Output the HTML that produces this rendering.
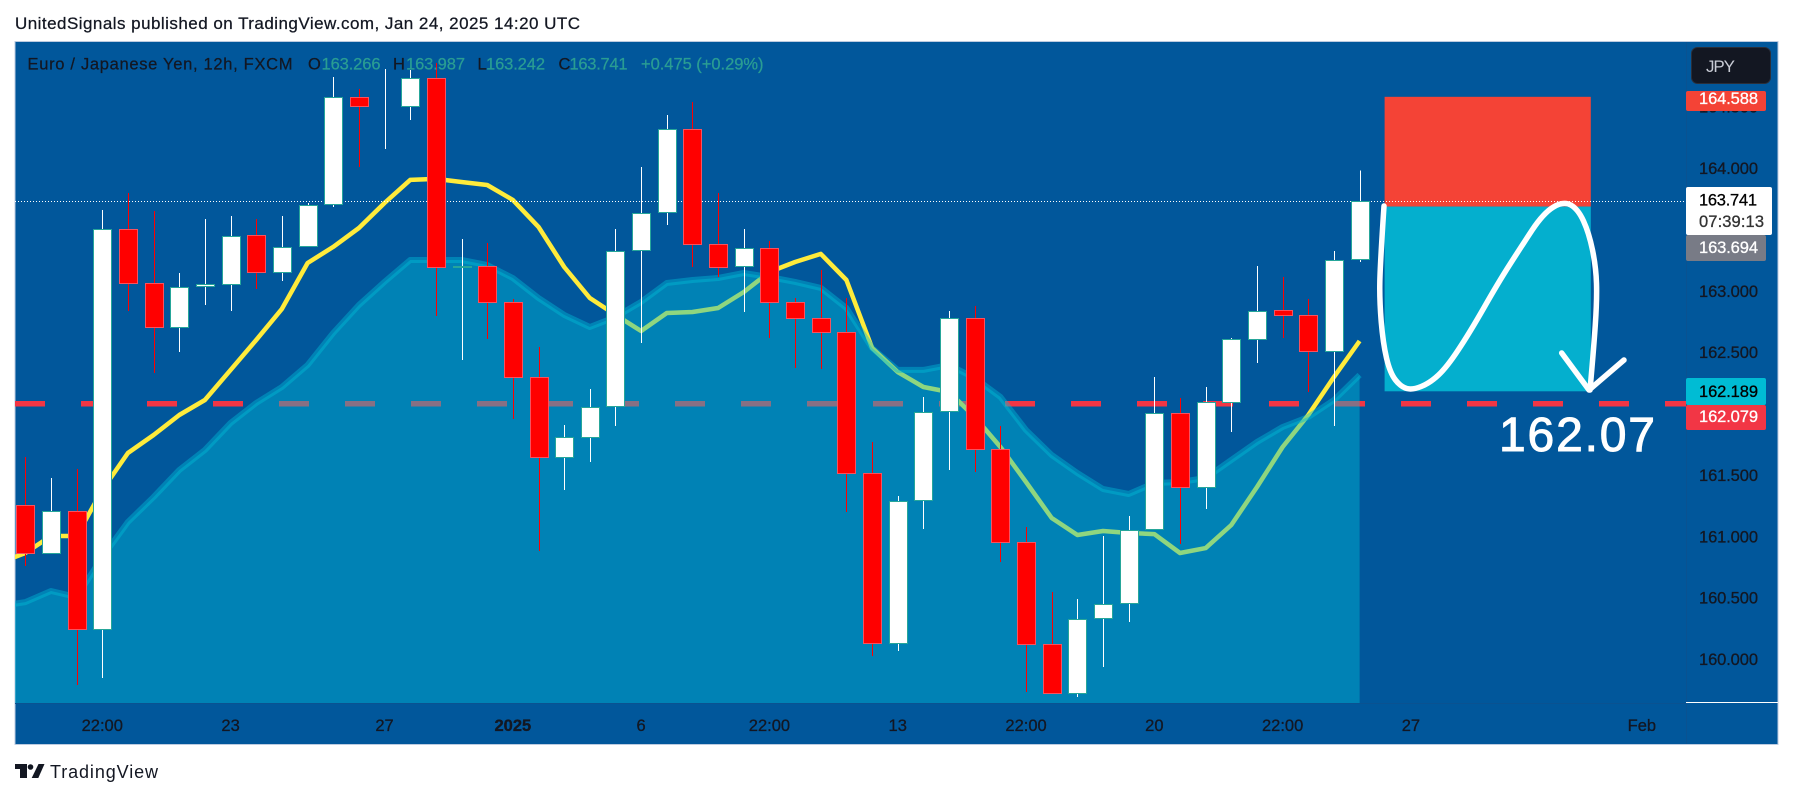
<!DOCTYPE html>
<html lang="en">
<head>
<meta charset="utf-8">
<title>EUR/JPY 12h chart</title>
<style>
html,body{margin:0;padding:0;background:#fff;width:1793px;height:798px;overflow:hidden}
svg{display:block}
text{font-family:"Liberation Sans",sans-serif}
</style>
</head>
<body>
<svg id="chart" xmlns="http://www.w3.org/2000/svg" width="1793" height="798" viewBox="0 0 1793 798">
  <defs>
    <clipPath id="plot-clip"><rect x="15" y="41" width="1671" height="662"/></clipPath>
  </defs>
  <rect x="0" y="0" width="1793" height="798" fill="#ffffff"/>
  <text x="15" y="29" font-size="17" fill="#131722" stroke="#131722" stroke-width="0.25" textLength="565">UnitedSignals published on TradingView.com, Jan 24, 2025 14:20 UTC</text>
  <rect x="15" y="41.5" width="1763" height="703" fill="#01579b" stroke="#bccbe0" stroke-width="1"/>
  <g id="plot-under" clip-path="url(#plot-clip)"></g>
  <rect id="stop-box" fill="#f44336"/>
  <rect id="target-box" fill="#04afce"/>
  <line id="last-price-line" x1="15" x2="1686" stroke="#ffffff" stroke-width="1" stroke-dasharray="1 2"/>
  <g id="candles" clip-path="url(#plot-clip)"></g>

  <path fill="none" stroke="#ffffff" stroke-width="5.5" stroke-linecap="round" stroke-linejoin="round" d="M1384,206 Q1380,267 1379.8,283.5 Q1379.5,300 1381.2,321.5 Q1383,343 1386.5,358 Q1390,373 1395.5,380 Q1401,387 1406.8,388.5 Q1412.5,390 1421.2,386.5 Q1430,383 1438.5,375 Q1447,367 1458.2,350 Q1469.5,333 1483.8,308 Q1498,283 1509.5,265 Q1521,247 1532.2,230 Q1543.5,213 1553.5,207 Q1563.5,201 1570.8,205 Q1578,209 1583.5,221 Q1589,233 1592.5,250 Q1596,267 1596.5,283.5 Q1597,300 1595.3,325 Q1593.6,350 1590,390"/>
  <polyline fill="none" stroke="#ffffff" stroke-width="5.5" stroke-linecap="round" stroke-linejoin="round" points="1561.7,353 1589,390 1624,360"/>
  <text x="1499" y="451" font-size="48" fill="#ffffff" stroke="#ffffff" stroke-width="1" textLength="156">162.07</text>

  <g font-size="16.5" stroke-width="0.25">
    <text x="27.5" y="69.5" fill="#131722" stroke="#131722" textLength="265">Euro / Japanese Yen, 12h, FXCM</text>
    <text x="308" y="69.5" fill="#131722" stroke="#131722">O</text>
    <text x="321.5" y="69.5" fill="#2a9d93" stroke="#2a9d93" textLength="59">163.266</text>
    <text x="393" y="69.5" fill="#131722" stroke="#131722">H</text>
    <text x="406" y="69.5" fill="#2a9d93" stroke="#2a9d93" textLength="59">163.987</text>
    <text x="477.5" y="69.5" fill="#131722" stroke="#131722">L</text>
    <text x="486" y="69.5" fill="#2a9d93" stroke="#2a9d93" textLength="59">163.242</text>
    <text x="558.5" y="69.5" fill="#131722" stroke="#131722">C</text>
    <text x="569.5" y="69.5" fill="#2a9d93" stroke="#2a9d93" textLength="58">163.741</text>
    <text x="641" y="69.5" fill="#2a9d93" stroke="#2a9d93" textLength="122.5">+0.475 (+0.29%)</text>
  </g>

  <line x1="1686.5" x2="1686.5" y1="42" y2="744" stroke="#0a5291" stroke-width="1"/>
  <line x1="15" x2="1686" y1="703.5" y2="703.5" stroke="#0a5291" stroke-width="1"/>
  <line x1="1686" x2="1778" y1="702.5" y2="702.5" stroke="#ffffff" stroke-width="1"/>
  <g id="price-ticks" font-size="16.5" fill="#131722" stroke="#131722" stroke-width="0.3"></g>
  <g id="time-ticks" font-size="16.5" fill="#131722" stroke="#131722" stroke-width="0.3"></g>

  <g font-size="16.5" stroke-width="0.3">
    <rect x="1686" y="91" width="80" height="20" rx="2" fill="#f44336"/>
    <text x="1699" y="104" fill="#ffffff" stroke="#ffffff" textLength="59">164.588</text>
    <rect x="1686" y="187" width="86" height="48" rx="2" fill="#ffffff"/>
    <text x="1699" y="205.5" fill="#000000" stroke="#000000" textLength="58">163.741</text>
    <text x="1699" y="227" fill="#333333" stroke="#333333" textLength="65">07:39:13</text>
    <rect x="1686" y="235" width="80" height="26" rx="2" fill="#787b86"/>
    <text x="1699" y="253" fill="#ffffff" stroke="#ffffff" textLength="59">163.694</text>
    <rect x="1686" y="378" width="80" height="27" rx="2" fill="#00bcd4"/>
    <text x="1699" y="397" fill="#000000" stroke="#000000" textLength="59">162.189</text>
    <rect x="1686" y="405" width="80" height="25" rx="2" fill="#f23645"/>
    <text x="1699" y="422" fill="#ffffff" stroke="#ffffff" textLength="59">162.079</text>
  </g>

  <rect x="1691.5" y="47.5" width="79" height="36" rx="6" fill="#131722" stroke="#2a2e39"/>
  <text x="1706" y="72" font-size="17" fill="#c9ccd6" textLength="29">JPY</text>

  <g>
    <path fill="#131722" d="M15 764H27V778H20V769H15Z"/>
    <circle cx="30.5" cy="767" r="2.8" fill="#131722"/>
    <path fill="#131722" d="M38.5 764H44.5L38.3 778H31.7Z"/>
    <text x="50" y="778" font-size="18" fill="#131722" textLength="108">TradingView</text>
  </g>
</svg>
<script>
// Bar data (EUR/JPY, 12h)
const opens = [161.263,160.872,161.214,160.253,163.511,163.071,162.713,163.047,163.063,163.462,163.161,163.373,163.715,164.587,164.513,164.513,164.742,163.202,163.210,162.917,162.306,161.654,161.817,162.069,163.340,163.650,164.326,163.389,163.210,163.357,162.917,162.786,162.672,161.523,160.138,161.303,162.029,162.786,161.719,160.961,160.130,159.731,160.342,160.464,161.067,162.012,161.409,162.102,162.615,162.851,162.811,162.517,163.266];
const highs = [161.654,161.483,161.556,163.666,163.805,163.658,163.153,163.593,163.617,163.593,163.617,163.723,164.750,164.652,164.815,164.807,164.864,163.430,163.397,162.941,162.550,161.915,162.208,163.511,164.016,164.440,164.546,163.805,163.511,163.414,162.949,163.177,162.949,161.776,161.336,162.143,162.843,162.884,161.906,161.084,160.554,160.497,161.010,161.173,162.306,162.135,162.224,162.623,163.210,163.120,162.941,163.332,163.987];
const lows = [160.766,160.872,159.796,159.853,162.843,162.338,162.509,162.892,162.843,163.023,163.088,163.373,163.691,164.016,164.163,164.399,162.803,162.444,162.615,161.963,160.888,161.385,161.613,161.906,162.583,163.544,163.202,163.120,162.835,162.623,162.379,162.371,161.206,160.033,160.073,161.067,161.548,161.532,160.798,159.739,159.731,159.699,159.943,160.310,161.067,160.945,161.230,161.857,162.420,162.623,162.183,161.906,163.242];
const closes = [160.872,161.214,160.253,163.511,163.071,162.713,163.039,163.063,163.454,163.161,163.365,163.707,164.587,164.513,164.513,164.742,163.202,163.210,162.917,162.306,161.654,161.817,162.061,163.332,163.642,164.326,163.389,163.202,163.357,162.917,162.786,162.672,161.523,160.138,161.295,162.020,162.786,161.719,160.961,160.130,159.731,160.334,160.456,161.059,162.012,161.409,162.102,162.615,162.843,162.811,162.517,163.259,163.741];
// Indicator series; the first value belongs to the bar just before the visible range
const areaValues = [160.440,160.472,160.562,160.513,160.839,161.124,161.328,161.548,161.711,161.931,162.094,162.224,162.403,162.664,162.892,163.080,163.259,163.259,163.259,163.218,163.112,162.949,162.811,162.713,162.794,162.917,163.071,163.096,163.112,163.153,163.120,163.080,163.031,162.868,162.542,162.363,162.363,162.403,162.297,162.143,161.874,161.670,161.523,161.393,161.352,161.442,161.450,161.483,161.629,161.776,161.898,161.980,162.118,162.322];
const emaValues = [160.790,160.872,161.010,161.010,161.385,161.686,161.833,161.996,162.118,162.363,162.607,162.860,163.234,163.365,163.519,163.723,163.911,163.919,163.894,163.870,163.748,163.528,163.202,162.949,162.811,162.680,162.827,162.835,162.868,162.998,163.161,163.242,163.308,163.096,162.542,162.346,162.224,162.183,161.980,161.735,161.450,161.157,161.018,161.051,161.035,161.026,160.872,160.912,161.100,161.409,161.735,161.996,162.306,162.599];
// Axis ticks
const priceTicks = ["164.500","164.000","163.000","162.500","161.500","161.000","160.500","160.000"];
const timeTickLabels = ["22:00","23","27","2025","6","22:00","13","22:00","20","22:00","27","Feb"];
const timeTickBars = [3,8,14,19,24,29,34,39,44,49,54,63];
// Horizontal levels
const levelPrice = 162.079;
const lastPrice = 163.741;
const stopPrice = 164.588;
const entryPrice = 163.694;
const targetPrice = 162.189;

const SVG_NS = 'http://www.w3.org/2000/svg';
function xScale(i){ return 25.3 + 25.66 * i; }
function yScale(p){ return 169 + (164 - p) * 122.75; }
function make(tag, parent){
  const el = document.createElementNS(SVG_NS, tag);
  parent.appendChild(el);
  return el;
}
function seriesPoints(values){
  return values.map(function(v, k){ return xScale(k - 1).toFixed(1) + ',' + yScale(v).toFixed(1); }).join(' ');
}

const under = document.getElementById('plot-under');
const PLOT_LEFT = 15, PLOT_RIGHT = 1686, PLOT_BOTTOM = 703;

// dashed horizontal level
const level = make('line', under);


level.setAttribute('x1', PLOT_LEFT);
level.setAttribute('x2', PLOT_RIGHT);
level.setAttribute('y1', yScale(levelPrice) - 1);
level.setAttribute('y2', yScale(levelPrice) - 1);
level.setAttribute('stroke', '#f23645');
level.setAttribute('stroke-width', '5.5');
level.setAttribute('stroke-dasharray', '30 36');

// moving-average line, sits under the translucent area
const ema = make('polyline', under);


ema.setAttribute('points', seriesPoints(emaValues));
ema.setAttribute('fill', 'none');
ema.setAttribute('stroke', '#ffeb3b');
ema.setAttribute('stroke-width', '4.5');
ema.setAttribute('stroke-linejoin', 'round');

// area fill
const lastX = xScale(areaValues.length - 2);
const firstX = xScale(-1);
const area = make('polygon', under);


area.setAttribute('points', seriesPoints(areaValues) + ' ' + lastX + ',' + PLOT_BOTTOM + ' ' + firstX + ',' + PLOT_BOTTOM);
area.setAttribute('fill', 'rgba(0,187,214,0.44)');

const areaLine = make('polyline', under);


areaLine.setAttribute('points', seriesPoints(areaValues));
areaLine.setAttribute('fill', 'none');
areaLine.setAttribute('stroke', 'rgba(0,187,214,0.44)');
areaLine.setAttribute('stroke-width', '6');
areaLine.setAttribute('stroke-linejoin', 'round');

// position boxes
const stopBox = document.getElementById('stop-box');
stopBox.setAttribute('x', 1384.6);
stopBox.setAttribute('width', 206.2);
stopBox.setAttribute('y', yScale(stopPrice));
stopBox.setAttribute('height', yScale(entryPrice) - yScale(stopPrice));
const targetBox = document.getElementById('target-box');
targetBox.setAttribute('x', 1384.6);
targetBox.setAttribute('width', 206.2);
targetBox.setAttribute('y', yScale(entryPrice));
targetBox.setAttribute('height', yScale(targetPrice) - yScale(entryPrice));

// last price line
const lastLine = document.getElementById('last-price-line');
lastLine.setAttribute('y1', Math.round(yScale(lastPrice)) + 0.5);
lastLine.setAttribute('y2', Math.round(yScale(lastPrice)) + 0.5);

// candles
const candleGroup = document.getElementById('candles');
for (let i = 0; i < opens.length; i++) {
  const up = closes[i] >= opens[i];
  const cx = xScale(i);
  const wx = Math.round(cx) + 0.5;
  const wick = make('line', candleGroup);
  
  
  wick.setAttribute('x1', wx);
  wick.setAttribute('x2', wx);
  wick.setAttribute('y1', yScale(highs[i]));
  wick.setAttribute('y2', yScale(lows[i]));
  wick.setAttribute('stroke', up ? '#ffffff' : '#ff0000');
  wick.setAttribute('stroke-width', '1');
  wick.setAttribute('shape-rendering', 'crispEdges');
  const top = Math.round(yScale(Math.max(opens[i], closes[i])));
  const bot = Math.round(yScale(Math.min(opens[i], closes[i])));
  const body = make('rect', candleGroup);
  
  
  body.setAttribute('x', Math.round(cx) - 8.5);
  body.setAttribute('width', 18);
  body.setAttribute('y', top + 0.5);
  body.setAttribute('height', bot - top);
  body.setAttribute('fill', up ? '#ffffff' : '#ff0000');
  body.setAttribute('stroke', up ? '#26a69a' : '#f7525f');
  body.setAttribute('stroke-width', '1');
  body.setAttribute('shape-rendering', 'crispEdges');
}

// price axis
const priceGroup = document.getElementById('price-ticks');
for (let i = 0; i < priceTicks.length; i++) {
  const t = make('text', priceGroup);
  
  
  t.setAttribute('x', 1699);
  t.setAttribute('y', yScale(parseFloat(priceTicks[i])) + 5);
  t.setAttribute('textLength', 59);
  t.textContent = priceTicks[i];
}

// time axis
const timeGroup = document.getElementById('time-ticks');
for (let i = 0; i < timeTickLabels.length; i++) {
  const t = make('text', timeGroup);
  
  
  t.setAttribute('x', xScale(timeTickBars[i]));
  t.setAttribute('y', 731);
  t.setAttribute('text-anchor', 'middle');
  if (timeTickLabels[i] === '2025') t.setAttribute('font-weight', 'bold');
  t.textContent = timeTickLabels[i];
}
</script>
</body>
</html>
